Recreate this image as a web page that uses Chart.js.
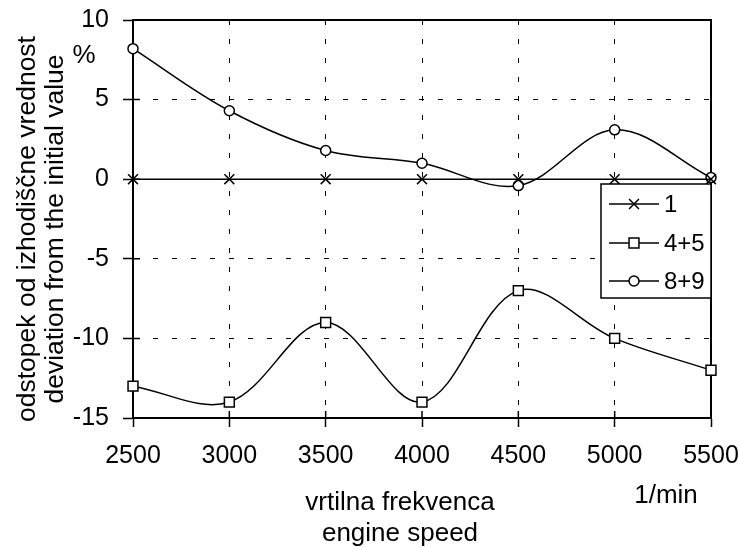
<!DOCTYPE html>
<html>
<head>
<meta charset="utf-8">
<script src="https://cdn.jsdelivr.net/npm/chart.js@4/dist/chart.umd.min.js"></script>
<style>
  html, body { margin: 0; padding: 0; background: #fff; }
  #wrap { width: 739px; height: 547px; }
</style>
</head>
<body>
<div id="wrap"><canvas id="grafico" width="739" height="547"></canvas></div>
<script>
// Datos
const vrtljaji   = [2500, 3000, 3500, 4000, 4500, 5000, 5500];
const serija1    = [0, 0, 0, 0, 0, 0, 0];
const serija45   = [-13, -14, -9, -14, -7, -10, -12];
const serija89   = [8.2, 4.3, 1.8, 1.0, -0.4, 3.1, 0.1];
const imenaSerij = ['1', '4+5', '8+9'];
const oblike     = ['crossRot', 'rect', 'circle'];
const yTicks     = [-15, -10, -5, 0, 5, 10];
const xTicks     = [2500, 3000, 3500, 4000, 4500, 5000, 5500];

const FONT = '"Liberation Sans", Arial, sans-serif';

function tocke(vrednosti){
    return vrtljaji.map((x, i) => ({ x: x, y: vrednosti[i] }));
}

function serija(i, vrednosti){
    return {
        label: imenaSerij[i],
        data: tocke(vrednosti),
        borderColor: '#000',
        borderWidth: 1.5,
        backgroundColor: '#fff',
        pointStyle: oblike[i],
        pointRadius: oblike[i] === 'circle' ? 5 : 7,
        pointBorderWidth: 1.5,
        pointBorderColor: '#000',
        pointBackgroundColor: '#fff',
        tension: 0.35,
        clip: false
    };
}

// Okvir, notranje oznake, naslovi osi in legenda
const okvir = {
    id: 'okvir',
    beforeDatasetsDraw(chart){
        const ctx = chart.ctx, a = chart.chartArea;
        ctx.save();
        ctx.strokeStyle = '#000';
        ctx.lineWidth = 2;
        ctx.beginPath();
        ctx.moveTo(a.left, a.top);
        ctx.lineTo(a.right, a.top);
        ctx.lineTo(a.right, a.bottom);
        ctx.stroke();
        // notranji del oznak
        ctx.lineWidth = 1.5;
        ctx.beginPath();
        xTicks.forEach(v => {
            const x = chart.scales.x.getPixelForValue(v);
            ctx.moveTo(x, a.bottom - 7); ctx.lineTo(x, a.bottom);
        });
        yTicks.forEach(v => {
            const y = chart.scales.y.getPixelForValue(v);
            ctx.moveTo(a.left, y); ctx.lineTo(a.left + 7, y);
        });
        ctx.stroke();
        ctx.restore();
    },
    afterDraw(chart){
        const ctx = chart.ctx;
        ctx.save();
        ctx.fillStyle = '#000';

        // naslov osi y
        ctx.font = '26.5px ' + FONT;
        ctx.save();
        ctx.translate(35, 229);
        ctx.rotate(-Math.PI / 2);
        ctx.textAlign = 'center';
        ctx.textBaseline = 'alphabetic';
        ctx.fillText('odstopek od izhodiščne vrednost', 0, 0);
        ctx.fillText('deviation from the initial value', 0, 28);
        ctx.restore();

        ctx.font = '26px ' + FONT;
        ctx.textAlign = 'center';
        ctx.textBaseline = 'alphabetic';
        ctx.fillText('%', 84, 63);
        ctx.fillText('vrtilna frekvenca', 400, 510);
        ctx.fillText('engine speed', 400, 541);
        ctx.fillText('1/min', 666, 503);

        // legenda
        const lx = 601, ly = 184, lw = 110, lh = 114;
        ctx.fillStyle = '#fff';
        ctx.fillRect(lx, ly, lw, lh);
        ctx.strokeStyle = '#000';
        ctx.lineWidth = 1.5;
        ctx.strokeRect(lx, ly, lw, lh);
        ctx.font = '24px ' + FONT;
        const vrstice = [204, 243, 281];
        chart.data.datasets.forEach((ds, i) => {
            const y = vrstice[i];
            ctx.beginPath();
            ctx.moveTo(609, y); ctx.lineTo(659, y);
            ctx.lineWidth = 1.5;
            ctx.strokeStyle = '#000';
            ctx.stroke();
            ctx.fillStyle = '#fff';
            Chart.helpers.drawPoint(ctx, {
                pointStyle: ds.pointStyle,
                radius: ds.pointRadius,
                rotation: 0,
                borderWidth: 1.5
            }, 634, y);
            ctx.fillStyle = '#000';
            ctx.textAlign = 'left';
            ctx.textBaseline = 'middle';
            ctx.fillText(ds.label, 664, y + 1);
        });
        ctx.restore();
    }
};

new Chart(document.getElementById('grafico'), {
    type: 'line',
    data: {
        datasets: [
            serija(0, serija1),
            serija(1, serija45),
            serija(2, serija89)
        ]
    },
    options: {
        responsive: false,
        animation: false,
        layout: { autoPadding: false, padding: { top: 20, right: 28, left: 0, bottom: 0 } },
        plugins: { legend: { display: false }, tooltip: { enabled: false } },
        scales: {
            x: {
                type: 'linear',
                min: 2500, max: 5500,
                afterFit: s => { s.height = 129; s.paddingLeft = 0; s.paddingRight = 0; },
                afterBuildTicks: s => { s.ticks = xTicks.map(v => ({ value: v })); },
                ticks: {
                    color: '#000', font: { family: FONT, size: 25 }, padding: 14, maxRotation: 0,
                    callback: v => String(v)
                },
                grid: {
                    color: '#000', lineWidth: 1,
                    tickLength: 9, tickColor: '#000', tickWidth: 1.5, tickBorderDash: []
                },
                border: { color: '#000', width: 2, dash: [5, 14] }
            },
            y: {
                min: -15, max: 10,
                afterFit: s => { s.width = 133; s.paddingTop = 0; s.paddingBottom = 0; },
                afterBuildTicks: s => { s.ticks = yTicks.map(v => ({ value: v })); },
                ticks: {
                    color: '#000', font: { family: FONT, size: 25 }, padding: 14,
                    callback: v => String(v)
                },
                grid: {
                    color: '#000', lineWidth: 1,
                    tickLength: 10, tickColor: '#000', tickWidth: 1.5, tickBorderDash: []
                },
                border: { color: '#000', width: 2, dash: [5, 14] }
            }
        }
    },
    plugins: [okvir]
});
</script>
</body>
</html>
